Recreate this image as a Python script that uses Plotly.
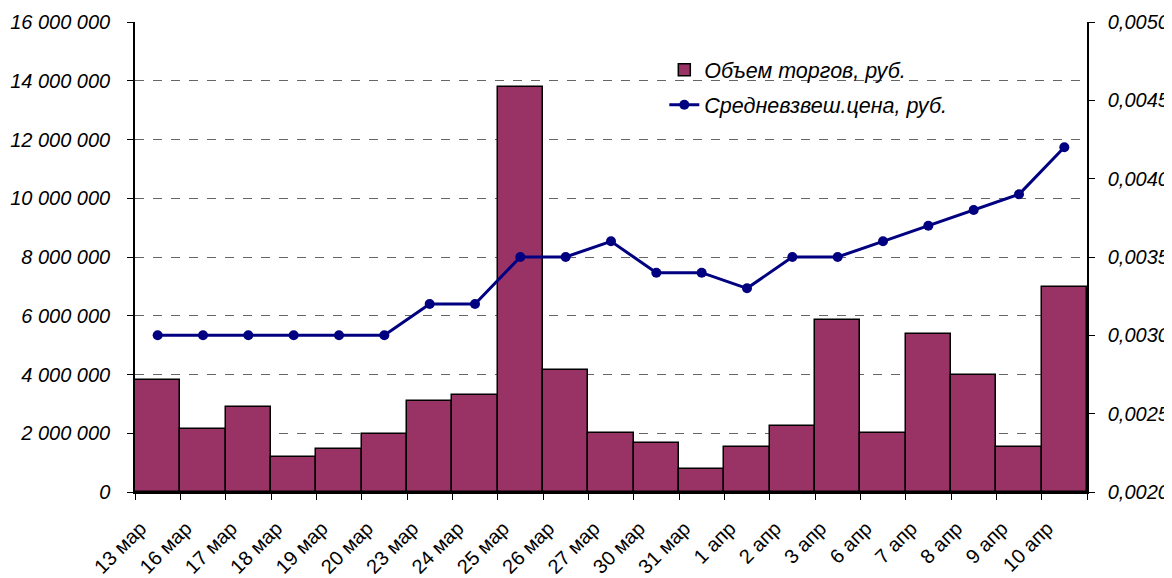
import plotly.graph_objects as go

categories = ["13 мар", "16 мар", "17 мар", "18 мар", "19 мар", "20 мар", "23 мар",
              "24 мар", "25 мар", "26 мар", "27 мар", "30 мар", "31 мар", "1 апр",
              "2 апр", "3 апр", "6 апр", "7 апр", "8 апр", "9 апр", "10 апр"]

volume = [3810000, 2150000, 2900000, 1200000, 1470000, 1970000, 3110000,
          3310000, 13800000, 4140000, 2020000, 1680000, 790000, 1540000,
          2250000, 5840000, 2020000, 5370000, 3980000, 1540000, 6990000]

price = [0.0030, 0.0030, 0.0030, 0.0030, 0.0030, 0.0030, 0.0032,
         0.0032, 0.0035, 0.0035, 0.0036, 0.0034, 0.0034, 0.0033,
         0.0035, 0.0035, 0.0036, 0.0037, 0.0038, 0.0039, 0.0042]

left_ticks = [0, 2000000, 4000000, 6000000, 8000000, 10000000, 12000000, 14000000, 16000000]
right_ticks = [0.0020, 0.0025, 0.0030, 0.0035, 0.0040, 0.0045, 0.0050]

FONT = "Liberation Sans, Arial, sans-serif"

fig = go.Figure()
fig.add_trace(go.Bar(
    x=categories, y=volume, name="Объем торгов, руб.",
    marker=dict(color="#993366", line=dict(color="black", width=1.5)),
    yaxis="y", legendgroup="a",
))
fig.add_trace(go.Scatter(
    x=categories, y=price, name="Средневзвеш.цена, руб.",
    mode="lines+markers",
    line=dict(color="#000080", width=3),
    marker=dict(color="#000080", size=10),
    yaxis="y2", legendgroup="b",
))

# page body has an 8px margin, so the figure is drawn 8px in from the top-left
fig.update_layout(
    width=1164, height=570,
    margin=dict(l=127, r=85, t=14, b=86, autoexpand=False),
    paper_bgcolor="white", plot_bgcolor="white",
    separators=", ",
    bargap=0,
    font=dict(family=FONT, size=20, color="black"),
    showlegend=True,
    legend=dict(
        x=0.556, y=0.942, xanchor="left", yanchor="top",
        bgcolor="rgba(0,0,0,0)",
        font=dict(family=FONT, size=21.5, color="black", style="italic"),
        tracegroupgap=4,
        traceorder="grouped",
    ),
    xaxis=dict(
        type="category",
        range=[-0.5, len(categories) - 0.5],
        automargin=False,
        tickson="boundaries",
        ticks="outside", ticklen=6, tickcolor="black", tickwidth=1,
        showline=True, linecolor="black", linewidth=1.5,
        showgrid=False,
        tickangle=-45,
        tickfont=dict(family=FONT, size=20, color="black"),
        ticklabelshift=-17,
        ticklabelstandoff=15,
    ),
    yaxis=dict(
        range=[0, 16000000],
        automargin=False,
        tickvals=left_ticks,
        tickformat=",d",
        ticks="outside", ticklen=6, tickcolor="black",
        showline=True, linecolor="black", linewidth=1.5,
        showgrid=True, gridcolor="#666666", gridwidth=1.3, griddash="dash",
        zeroline=False,
        tickfont=dict(family=FONT, size=20, color="black", style="italic"),
        ticklabelstandoff=13,
    ),
    yaxis2=dict(
        overlaying="y", side="right",
        range=[0.0020, 0.0050],
        automargin=False,
        tickvals=right_ticks,
        tickformat=".4f",
        ticks="outside", ticklen=6, tickcolor="black",
        showline=True, linecolor="black", linewidth=1.5,
        showgrid=False, zeroline=False,
        tickfont=dict(family=FONT, size=20, color="black", style="italic"),
        ticklabelstandoff=9,
    ),
)

fig.write_html("out.html")
